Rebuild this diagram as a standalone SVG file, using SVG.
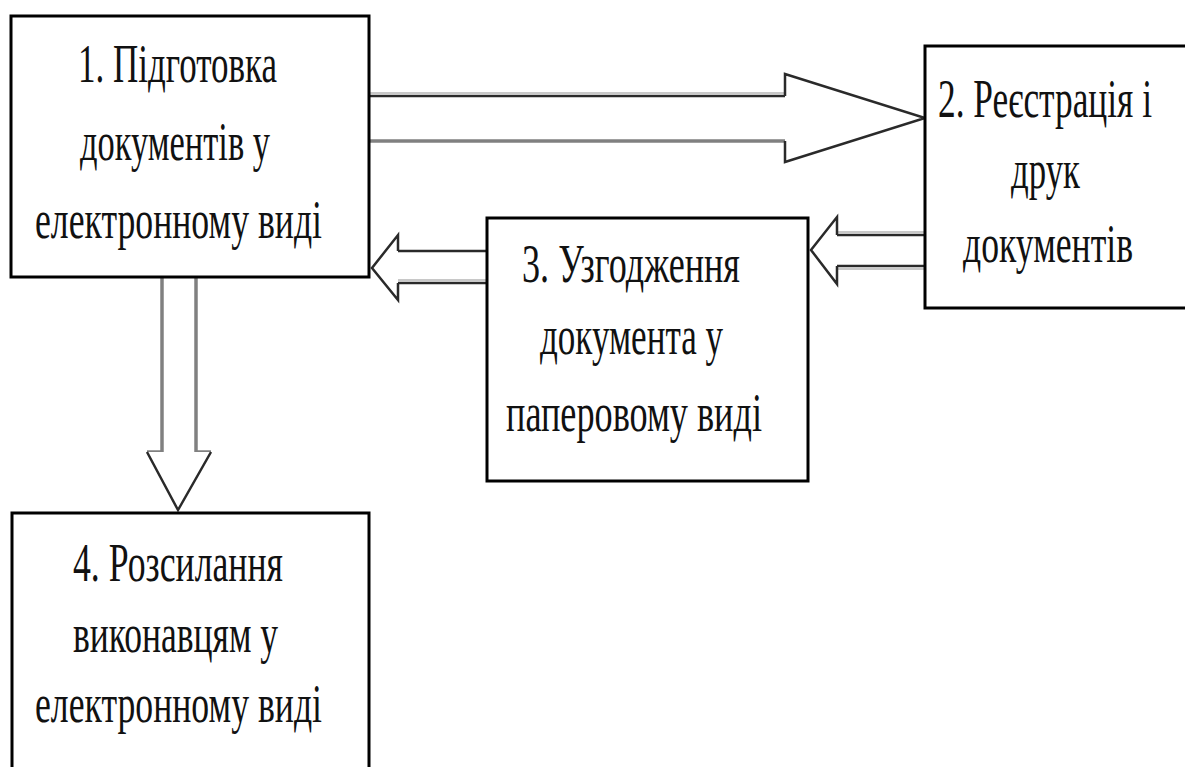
<svg xmlns="http://www.w3.org/2000/svg" width="1185" height="767" viewBox="0 0 1185 767">
<style>
.box{fill:#fff;stroke:#000;stroke-width:3}
.t{font-family:"Liberation Serif","Times New Roman",serif;font-size:54px;fill:#111}
.dk{stroke:#2a2a2a;stroke-width:2.5;fill:none}
.lt{stroke:#c8c8c8;stroke-width:2;fill:none}
.gr{stroke:#808080;stroke-width:3.5;fill:none}
.hd{stroke:#2a2a2a;stroke-width:2.5;fill:#fff;stroke-linejoin:miter}
</style>
<rect width="1185" height="767" fill="#fff"/>
<g id="connectors">
  <g id="a12">
    <line class="lt" x1="370" y1="93" x2="785" y2="93"/>
    <line class="dk" x1="370" y1="96" x2="785" y2="96"/>
    <line class="gr" x1="370" y1="141" x2="785" y2="141"/>
    <polyline class="hd" points="785,96 785,74 925,118 785,162 785,141"/>
  </g>
  <g id="a23">
    <line class="lt" x1="837" y1="232" x2="925" y2="232"/>
    <line class="dk" x1="837" y1="235" x2="925" y2="235"/>
    <line class="dk" x1="837" y1="266" x2="925" y2="266"/>
    <line class="lt" x1="837" y1="269" x2="925" y2="269"/>
    <polyline class="hd" points="837,235 837,217 811,250 837,284 837,266"/>
  </g>
  <g id="a31">
    <line class="dk" x1="398" y1="251" x2="487" y2="251"/>
    <line class="lt" x1="398" y1="280" x2="487" y2="280"/>
    <line class="dk" x1="398" y1="283" x2="487" y2="283"/>
    <polyline class="hd" points="398,251 398,235 372,268 398,300 398,283"/>
  </g>
  <g id="a14">
    <line class="gr" x1="162" y1="277" x2="162" y2="452"/>
    <line class="gr" x1="196" y1="277" x2="196" y2="452"/>
    <polyline class="gr" points="162,452 147,452"/>
    <polyline class="gr" points="196,452 211,452"/>
    <polyline class="hd" points="147,452 178,510 211,452"/>
  </g>
</g>
<g id="node1">
  <rect class="box" x="11" y="16" width="358" height="261"/>
  <text class="t" x="78" y="82" textLength="199" lengthAdjust="spacingAndGlyphs">1. Підготовка</text>
  <text class="t" x="80" y="160" textLength="190" lengthAdjust="spacingAndGlyphs">документів у</text>
  <text class="t" x="35" y="238" textLength="287" lengthAdjust="spacingAndGlyphs">електронному виді</text>
</g>
<g id="node2">
  <path class="box" d="M1185,46 H925 V308 H1185"/>
  <text class="t" x="938" y="117" textLength="214" lengthAdjust="spacingAndGlyphs">2. Реєстрація і</text>
  <text class="t" x="1011" y="188" textLength="69" lengthAdjust="spacingAndGlyphs">друк</text>
  <text class="t" x="963" y="262" textLength="170" lengthAdjust="spacingAndGlyphs">документів</text>
</g>
<g id="node3">
  <rect class="box" x="487" y="218" width="321" height="263"/>
  <text class="t" x="522" y="282" textLength="218" lengthAdjust="spacingAndGlyphs">3. Узгодження</text>
  <text class="t" x="540" y="354" textLength="183" lengthAdjust="spacingAndGlyphs">документа у</text>
  <text class="t" x="506" y="431" textLength="256" lengthAdjust="spacingAndGlyphs">паперовому виді</text>
</g>
<g id="node4">
  <path class="box" d="M12,767 V513 H369 V767"/>
  <text class="t" x="73" y="581" textLength="210" lengthAdjust="spacingAndGlyphs">4. Розсилання</text>
  <text class="t" x="73" y="652" textLength="205" lengthAdjust="spacingAndGlyphs">виконавцям у</text>
  <text class="t" x="35" y="722" textLength="287" lengthAdjust="spacingAndGlyphs">електронному виді</text>
</g>
</svg>
